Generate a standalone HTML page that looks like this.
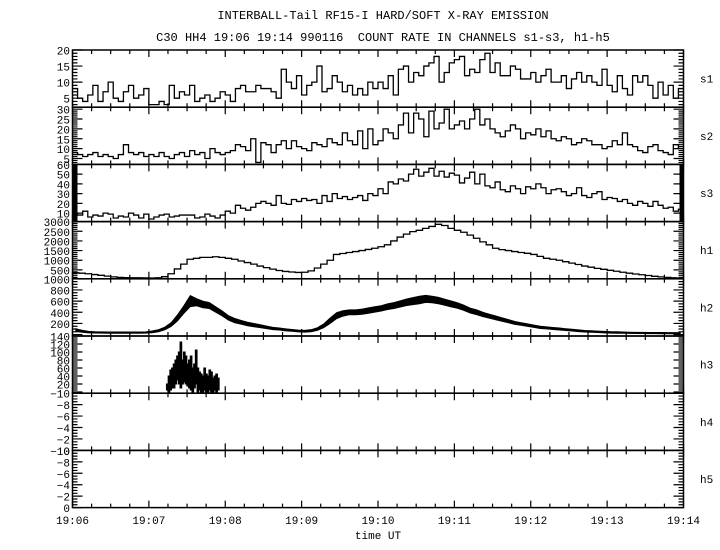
<!DOCTYPE html>
<html><head><meta charset="utf-8"><style>
body{margin:0;background:#fff}
svg{display:block}
text{font-family:"Liberation Mono",monospace;fill:#000}
</style></head><body>
<svg id="chart" width="720" height="550" viewBox="0 0 720 550" xmlns="http://www.w3.org/2000/svg">
<text x="383" y="19" font-size="12" text-anchor="middle">INTERBALL-Tail RF15-I HARD/SOFT X-RAY EMISSION</text>
<text x="383" y="41" font-size="12" text-anchor="middle" xml:space="preserve">C30 HH4 19:06 19:14 990116  COUNT RATE IN CHANNELS s1-s3, h1-h5</text>
<text x="378" y="539" font-size="11" text-anchor="middle">time UT</text>
</svg>
<script>
// time ticks (minutes after 19:00)
const xTickLabels = ["19:06","19:07","19:08","19:09","19:10","19:11","19:12","19:13","19:14"];
const tStart = 6, tEnd = 14;
// s1..s3 histogram values (4 s bins)
const s1Values = [8,5,4,6,9,4,7,10,5,4,7,9,5,6,8,3,3,4,3,9,5,7,6,9,4,5,6,4,5,7,
6,4,8,9,7,7,9,8,8,7,5,14,10,8,12,6,9,10,15,7,8,12,10,7,9,6,8,6,10,8,
10,8,12,6,14,15,10,13,12,15,16,18,10,13,16,17,18,12,14,13,17,19,13,16,12,12,15,14,11,11,
13,10,12,14,10,10,12,8,11,13,10,12,10,9,14,9,7,12,8,6,12,10,12,9,5,10,6,9,5,8];
const s2Values = [8,7,6,7,8,6,7,6,5,7,12,8,7,8,6,7,6,8,6,5,7,8,6,9,7,8,5,10,8,7,
8,9,12,11,9,15,3,13,12,8,12,14,10,14,11,10,9,13,12,11,15,13,12,18,14,12,19,10,20,12,
14,20,18,15,22,28,18,28,25,16,29,20,23,30,20,22,24,20,25,30,22,25,20,18,16,19,22,20,15,18,
17,20,16,19,15,14,16,15,12,13,15,14,12,12,10,11,14,12,18,12,11,9,8,11,12,9,8,7,12,10];
const s3Values = [10,8,12,6,8,7,10,9,5,7,6,10,8,5,9,4,6,8,9,6,7,8,8,8,5,6,9,7,5,8,
12,10,18,15,13,16,20,22,20,18,28,20,19,24,22,25,23,24,20,28,22,30,25,27,24,26,28,23,30,28,
35,30,42,40,45,43,50,55,48,52,56,48,53,47,51,49,41,46,52,40,50,38,36,42,34,32,38,35,30,37,
35,40,36,30,34,35,32,28,30,36,28,26,30,32,24,26,25,22,24,20,18,22,20,17,22,18,15,16,12,14];
// h1 values (5 s bins)
const h1Values = [350,330,300,260,220,180,140,110,100,95,90,85,
80,90,150,300,550,800,1050,1100,1150,1150,1180,1150,
1100,1050,960,880,800,700,620,540,470,420,390,370,
380,450,600,800,1000,1300,1350,1400,1450,1500,1560,1620,
1700,1800,2000,2200,2350,2480,2550,2650,2750,2860,2800,2650,
2550,2450,2300,2140,1950,1800,1620,1550,1500,1450,1400,1360,
1300,1200,1100,1050,1000,925,850,780,700,640,580,530,
480,430,380,330,290,250,210,170,140,110,90,70];
// h2 noisy signal: mid level and half-spread (5 s bins)
const h2Mid = [80,60,45,40,38,36,35,35,35,35,36,38,
50,70,110,180,300,450,600,580,540,520,450,380,
300,250,220,190,170,150,130,110,100,85,75,65,
60,70,100,160,250,340,380,400,400,410,430,450,
470,500,520,550,580,600,620,640,630,610,580,550,
520,480,430,400,360,330,300,270,240,210,190,170,
150,130,120,110,100,90,80,70,60,55,50,45,
40,38,35,32,30,30,28,28,26,25,25,25];
const h2Spread = [50,40,30,25,25,25,25,25,25,25,25,25,
35,40,50,70,110,140,200,130,120,110,100,90,
80,80,70,65,60,55,50,45,40,40,35,35,
35,40,50,70,100,110,100,90,90,95,100,100,
100,105,110,115,120,130,140,130,120,120,110,110,
100,95,90,90,80,75,70,65,60,55,50,50,
45,45,40,40,40,35,35,35,30,30,30,30,
30,30,25,25,25,25,25,25,25,25,25,25];
// h3: data window 19:07.23 - 19:07.92 (low/high per bin)
const h3Start = 7.23, h3End = 7.92;
const h3High = [20,40,55,60,70,80,90,100,125,80,100,90,70,80,90,60,70,105,60,50,45,40,60,45,40,55,50,35,40,45,35];
const h3Low  = [5,0,5,10,10,20,30,20,10,20,25,20,15,10,5,0,10,20,0,5,0,0,5,0,0,5,0,0,5,0,5];

const X0 = 72.5, X1 = 683.5;
const TOP = 50, PH = 57.2;
const panels = [
 {name:"s1", lo:2.2, hi:20, labels:[5,10,15,20], major:5, minor:1},
 {name:"s2", lo:2, hi:31, labels:[5,10,15,20,25,30], major:5, minor:1},
 {name:"s3", lo:1.3, hi:60, labels:[10,20,30,40,50,60], major:10, minor:10},
 {name:"h1", lo:40, hi:3000, labels:[500,1000,1500,2000,2500,3000], major:500, minor:100},
 {name:"h2", lo:-25, hi:1000, labels:[200,400,600,800,1000], major:200, minor:50},
 {name:"h3", lo:-3, hi:140, labels:[20,40,60,80,100,120,140], major:20, minor:5},
 {name:"h4", lo:0, hi:-10, labels:[0,-2,-4,-6,-8,-10], major:2, minor:0.5},
 {name:"h5", lo:0, hi:-10, labels:[0,-2,-4,-6,-8,-10], major:2, minor:0.5}
];
const svg = document.getElementById('chart');
const NS = "http://www.w3.org/2000/svg";
function mk(tag, attrs){const e=document.createElementNS(NS,tag);for(const k in attrs)e.setAttribute(k,attrs[k]);svg.appendChild(e);return e;}
function xs(t){return X0 + (t - tStart)/(tEnd - tStart)*(X1 - X0);}
function ys(p,v){const top=TOP+p.idx*PH, bot=top+PH;return bot - (v - p.lo)/(p.hi - p.lo)*PH;}

panels.forEach((p,i)=>{
  p.idx=i;
  const top=TOP+i*PH, bot=top+PH;
  const g = mk('g',{});
  
  
  const r = document.createElementNS(NS,'rect');
  r.setAttribute('x',X0);r.setAttribute('y',top);r.setAttribute('width',X1-X0);r.setAttribute('height',PH);
  r.setAttribute('fill','none');r.setAttribute('stroke','#000');r.setAttribute('stroke-width','1.5');
  
  
  g.appendChild(r);
  let d='';
  const a=Math.min(p.lo,p.hi), b=Math.max(p.lo,p.hi);
  for(let v=Math.ceil(a/p.minor)*p.minor; v<=b+1e-9; v+=p.minor){
    const y=ys(p,v); const isMaj=Math.abs(v/p.major-Math.round(v/p.major))<1e-6;
    const L=isMaj?10:5;
    d+=`M${X0} ${y}h${L}M${X1} ${y}h${-L}`;
  }
  for(let t=tStart; t<=tEnd+1e-9; t+=0.25){
    const x=xs(t); const isMaj=Math.abs(t-Math.round(t))<1e-6; const L=isMaj?7:4;
    d+=`M${x} ${top}v${L}M${x} ${bot}v${-L}`;
  }
  const tk=document.createElementNS(NS,'path');
  tk.setAttribute('d',d);tk.setAttribute('stroke','#000');tk.setAttribute('stroke-width','1.2');tk.setAttribute('fill','none');
  
  
  g.appendChild(tk);
  p.labels.forEach(v=>{
    const t=document.createElementNS(NS,'text');
    t.setAttribute('x',70);t.setAttribute('y',ys(p,v)+4.5);t.setAttribute('font-size','11');t.setAttribute('text-anchor','end');
    
    
    t.textContent=v===0?'0':(v<0?'\u2212'+(-v):String(v));
    g.appendChild(t);
  });
  const nl=document.createElementNS(NS,'text');
  nl.setAttribute('x',700);nl.setAttribute('y',top+PH/2+4);nl.setAttribute('font-size','11');
  
  
  nl.textContent=p.name;
  g.appendChild(nl);
});

function stepPath(p, vals){
  const n=vals.length; let d='';
  vals.forEach((v,i)=>{
    const x0=xs(tStart+i*(tEnd-tStart)/n), x1=xs(tStart+(i+1)*(tEnd-tStart)/n), y=ys(p,v);
    d+=(i===0?`M${x0} ${y}`:`V${y}`)+`H${x1}`;
  });
  return d;
}
[[0,s1Values,'s1'],[1,s2Values,'s2'],[2,s3Values,'s3'],[3,h1Values,'h1']].forEach(([i,vals,nm])=>{
  const e=mk('path',{d:stepPath(panels[i],vals),fill:'none',stroke:'#000','stroke-width':'1.3'});
  
  
});
const eb1=mk('rect',{x:72.5,y:TOP+2*PH,width:5,height:PH,fill:'#000'});


const eb2=mk('rect',{x:679.5,y:TOP+2*PH,width:4,height:PH,fill:'#000'});



// h2 band
(function(){
  const p=panels[4], n=h2Mid.length; let up='', dn='';
  for(let i=0;i<n;i++){
    const x=xs(tStart+(i+0.5)*(tEnd-tStart)/n);
    up+=(i?'L':'M')+x+' '+ys(p,h2Mid[i]+h2Spread[i]*0.5);
  }
  for(let i=n-1;i>=0;i--){
    const x=xs(tStart+(i+0.5)*(tEnd-tStart)/n);
    dn+='L'+x+' '+ys(p,Math.max(p.lo+5,h2Mid[i]-h2Spread[i]*0.5));
  }
  const e=mk('path',{d:up+dn+'Z',fill:'#000',stroke:'#000','stroke-width':'0.8'});
  
  
})();
// h3 bars
(function(){
  const p=panels[5], n=h3High.length; let d='';
  for(let i=0;i<n;i++){
    const x=xs(h3Start+(i+0.5)*(h3End-h3Start)/n), w=(xs(h3End)-xs(h3Start))/n;
    d+=`M${x-w/2} ${ys(p,h3Low[i])}H${x+w/2}V${ys(p,h3High[i])}H${x-w/2}Z`;
  }
  const e=mk('path',{d:d,fill:'#000',stroke:'#000','stroke-width':'1'});
  
  
})();
xTickLabels.forEach((lab,i)=>{
  const t=mk('text',{x:xs(tStart+i),y:524,'font-size':'11','text-anchor':'middle'});
  
  
  t.textContent=lab;
});
</script>
</body></html>
